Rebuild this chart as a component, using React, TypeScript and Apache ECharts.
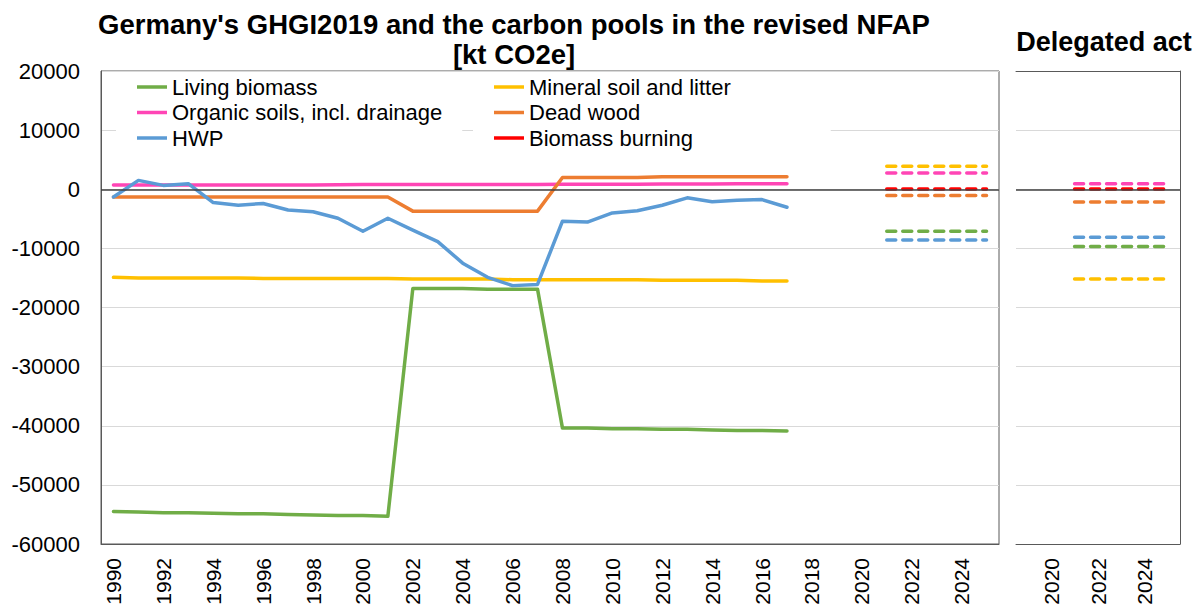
import React, { useEffect, useRef } from "react";
import * as echarts from "echarts";

// ---- categories ----
const nfapYears = [
  "1990", "1991", "1992", "1993", "1994", "1995", "1996", "1997", "1998", "1999",
  "2000", "2001", "2002", "2003", "2004", "2005", "2006", "2007", "2008", "2009",
  "2010", "2011", "2012", "2013", "2014", "2015", "2016", "2017", "2018", "2019",
  "2020", "2021", "2022", "2023", "2024", "2025",
];
const histYears = [
  "1990", "1991", "1992", "1993", "1994", "1995", "1996", "1997", "1998", "1999",
  "2000", "2001", "2002", "2003", "2004", "2005", "2006", "2007", "2008", "2009",
  "2010", "2011", "2012", "2013", "2014", "2015", "2016", "2017",
];
const daYears = ["2019", "2020", "2021", "2022", "2023", "2024", "2025"];
const projYears = ["2021", "2022", "2023", "2024", "2025"];

// ---- GHGI2019 history (kt CO2e) ----
const livingBiomass = [
  -54500, -54600, -54700, -54700, -54800, -54900, -54900, -55000, -55100, -55200,
  -55200, -55300, -16800, -16800, -16800, -16900, -16900, -16900, -40400, -40400,
  -40500, -40500, -40600, -40600, -40700, -40800, -40800, -40900,
];
const mineralSoil = [
  -14900, -15000, -15000, -15000, -15000, -15000, -15100, -15100, -15100, -15100,
  -15100, -15100, -15200, -15200, -15200, -15200, -15300, -15300, -15300, -15300,
  -15300, -15300, -15400, -15400, -15400, -15400, -15500, -15500,
];
const organicSoils = [
  700, 700, 700, 700, 700, 700, 700, 700, 700, 750,
  800, 800, 800, 800, 800, 800, 800, 800, 850, 850,
  850, 850, 900, 900, 900, 950, 950, 950,
];
const deadWood = [
  -1300, -1300, -1300, -1300, -1300, -1300, -1300, -1300, -1300, -1300,
  -1300, -1300, -3700, -3700, -3700, -3700, -3700, -3700, 2000, 2000,
  2000, 2000, 2100, 2100, 2100, 2100, 2100, 2100,
];
const hwp = [
  -1300, 1500, 650, 950, -2250, -2700, -2400, -3500, -3800, -4900,
  -7100, -4900, -6900, -8850, -12500, -14900, -16300, -16100, -5400, -5550,
  -4000, -3650, -2700, -1450, -2100, -1850, -1750, -3050,
];

// ---- revised NFAP projections (2021-2025) ----
const nfapLiving = [-7100, -7100, -7100, -7100, -7100];
const nfapMineral = [3900, 3900, 3900, 3900, 3900];
const nfapOrganic = [2750, 2750, 2750, 2750, 2750];
const nfapDeadWood = [-1050, -1050, -1050, -1050, -1050];
const nfapHwp = [-8600, -8600, -8600, -8600, -8600];
const nfapBurning = [50, 50, 50, 50, 50];

// ---- Delegated act (2021-2025) ----
const daLiving = [-9700, -9700, -9700, -9700, -9700];
const daMineral = [-15200, -15200, -15200, -15200, -15200];
const daOrganic = [950, 950, 950, 950, 950];
const daDeadWood = [-2150, -2150, -2150, -2150, -2150];
const daHwp = [-8100, -8100, -8100, -8100, -8100];
const daBurning = [50, 50, 50, 50, 50];

const yTicks = { min: -60000, max: 20000, interval: 10000 };

const C = {
  living: "#70AD47",
  mineral: "#FFC000",
  organic: "#FF45B5",
  dead: "#ED7D31",
  hwp: "#5B9BD5",
  burning: "#FF0000",
};

const FONT = '"Liberation Sans", Arial, Helvetica, sans-serif';

const pairs = (ys: string[], vs: number[]) => ys.map((y, i) => [y, vs[i]]);

export default function App() {
  const ref = useRef<HTMLDivElement>(null);

  useEffect(() => {
    if (!ref.current) return;
    const chart = echarts.init(ref.current, undefined, { renderer: "svg" });

    const solid = (name: string, color: string, vs: number[]) => ({
      name,
      type: "line",
      xAxisIndex: 0,
      yAxisIndex: 0,
      data: pairs(histYears, vs),
      symbol: "none",
      itemStyle: { color },
      lineStyle: { color, width: 3.5, cap: "round", join: "round" },
    });
    const dashed = (name: string, color: string, vs: number[], panel: number) => ({
      name,
      type: "line",
      xAxisIndex: panel === 0 ? 0 : 1,
      yAxisIndex: panel,
      data: pairs(projYears, vs),
      symbol: "none",
      itemStyle: { color },
      lineStyle: { color, width: 3.5, type: [9, 7], cap: "round" },
    });
    const zeroLine = (panel: number) => ({
      type: "line",
      xAxisIndex: panel === 0 ? 0 : 1,
      yAxisIndex: panel,
      data: [],
      z: 1,
      silent: true,
      markLine: {
        silent: true,
        symbol: "none",
        label: { show: false },
        lineStyle: { color: "#404040", width: 1.5, type: "solid" },
        data: [{ yAxis: 0 }],
      },
    });

    const legendCommon = {
      orient: "vertical",
      icon: "rect",
      itemWidth: 30,
      itemHeight: 3.5,
      itemGap: 3.5,
      top: 72,
      backgroundColor: "#ffffff",
      textStyle: { fontFamily: FONT, fontSize: 22, color: "#000", lineHeight: 22 },
      selectedMode: false,
    };

    chart.setOption({
      animation: false,
      textStyle: { fontFamily: FONT },
      graphic: [
        {
          type: "text",
          x: 514,
          y: 9,
          silent: true,
          style: {
            text: "Germany's GHGI2019 and the carbon pools in the revised NFAP\n[kt CO2e]",
            font: `bold 27.5px ${FONT}`,
            lineHeight: 30,
            fill: "#000",
            textAlign: "center",
            textVerticalAlign: "top",
          },
        },
        {
          type: "text",
          x: 1104,
          y: 28,
          silent: true,
          style: {
            text: "Delegated act",
            font: `bold 27px ${FONT}`,
            fill: "#000",
            textAlign: "center",
            textVerticalAlign: "top",
          },
        },
      ],
      legend: [
        {
          ...legendCommon,
          left: 116,
          padding: [4, 20, 6, 21],
          data: ["Living biomass", "Organic soils, incl. drainage", "HWP"],
        },
        {
          ...legendCommon,
          left: 473,
          padding: [4, 100, 6, 21],
          data: ["Mineral soil and litter", "Dead wood", "Biomass burning"],
        },
      ],
      grid: [
        {
          left: 101,
          top: 71,
          width: 898,
          height: 473,
          show: true,
          borderColor: "#595959",
          borderWidth: 1,
          containLabel: false,
        },
        {
          left: 1016,
          top: 71,
          width: 164,
          height: 473,
          containLabel: false,
        },
      ],
      xAxis: [
        {
          type: "category",
          gridIndex: 0,
          data: nfapYears,
          boundaryGap: true,
          axisLine: { onZero: false, lineStyle: { color: "#595959", width: 1 } },
          axisTick: { show: false },
          axisLabel: {
            interval: 1,
            rotate: 90,
            margin: 14,
            fontSize: 21,
            color: "#000",
            fontFamily: FONT,
          },
          splitLine: { show: false },
        },
        {
          type: "category",
          gridIndex: 1,
          data: daYears,
          boundaryGap: true,
          axisLine: { onZero: false, lineStyle: { color: "#595959", width: 1 } },
          axisTick: { show: false },
          axisLabel: {
            interval: (_i: number, v: string) => Number(v) % 2 === 0,
            rotate: 90,
            margin: 14,
            fontSize: 21,
            color: "#000",
            fontFamily: FONT,
          },
          splitLine: { show: false },
        },
        {
          type: "category",
          gridIndex: 1,
          position: "top",
          data: daYears,
          axisLine: { onZero: false, lineStyle: { color: "#595959", width: 1 } },
          axisTick: { show: false },
          axisLabel: { show: false },
          splitLine: { show: false },
        },
      ],
      yAxis: [
        {
          type: "value",
          gridIndex: 0,
          ...yTicks,
          axisLine: { show: true, lineStyle: { color: "#595959", width: 1 } },
          axisTick: { show: false },
          axisLabel: {
            fontSize: 22,
            color: "#000",
            margin: 21,
            fontFamily: FONT,
            formatter: (v: number) => String(v),
          },
          splitLine: { show: true, lineStyle: { color: "#d9d9d9", width: 1 } },
        },
        {
          type: "value",
          gridIndex: 1,
          position: "right",
          ...yTicks,
          axisLine: { show: true, lineStyle: { color: "#595959", width: 1 } },
          axisTick: { show: false },
          axisLabel: { show: false },
          splitLine: { show: true, lineStyle: { color: "#d9d9d9", width: 1 } },
        },
      ],
      series: [
        zeroLine(0),
        zeroLine(1),
        solid("Living biomass", C.living, livingBiomass),
        solid("Mineral soil and litter", C.mineral, mineralSoil),
        solid("Organic soils, incl. drainage", C.organic, organicSoils),
        solid("Dead wood", C.dead, deadWood),
        solid("HWP", C.hwp, hwp),
        dashed("Living biomass", C.living, nfapLiving, 0),
        dashed("Mineral soil and litter", C.mineral, nfapMineral, 0),
        dashed("Organic soils, incl. drainage", C.organic, nfapOrganic, 0),
        dashed("Dead wood", C.dead, nfapDeadWood, 0),
        dashed("HWP", C.hwp, nfapHwp, 0),
        dashed("Biomass burning", C.burning, nfapBurning, 0),
        dashed("Living biomass", C.living, daLiving, 1),
        dashed("Mineral soil and litter", C.mineral, daMineral, 1),
        dashed("Organic soils, incl. drainage", C.organic, daOrganic, 1),
        dashed("Dead wood", C.dead, daDeadWood, 1),
        dashed("HWP", C.hwp, daHwp, 1),
        dashed("Biomass burning", C.burning, daBurning, 1),
      ],
    });

    return () => chart.dispose();
  }, []);

  return (
    <div
      ref={ref}
      style={{ position: "fixed", left: 0, top: 0, width: 1196, height: 609, background: "#fff" }}
    />
  );
}
